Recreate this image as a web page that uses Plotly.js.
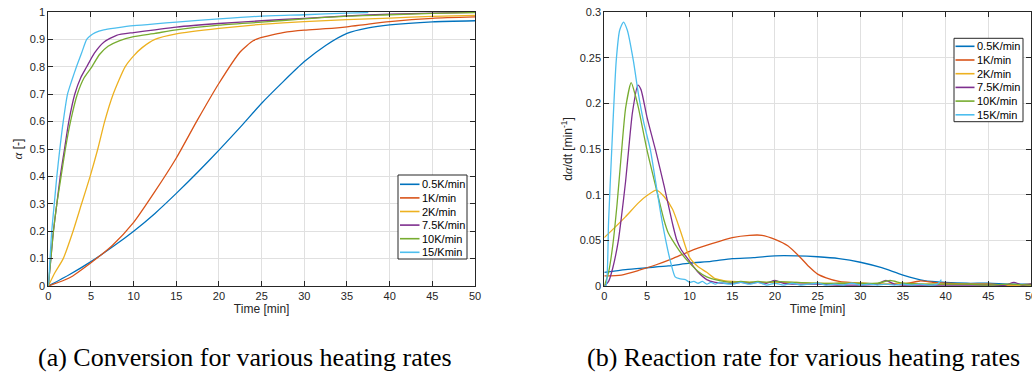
<!DOCTYPE html>
<html><head><meta charset="utf-8">
<script src="https://cdn.plot.ly/plotly-3.0.1.min.js"></script>
<style>html,body{margin:0;padding:0;background:#fff;}#chart{width:1032px;height:378px;}</style>
</head><body><div id="chart"></div>
<script>
// ---------- data ----------
const colors = ['#0072BD', '#D95319', '#EDB120', '#7E2F8E', '#77AC30', '#4DBEEE'];
const legendA = ['0.5K/min', '1K/min', '2K/min', '7.5K/min', '10K/min', '15/Kmin'];
const legendB = ['0.5K/min', '1K/min', '2K/min', '7.5K/min', '10K/min', '15K/min'];
const xTicks = [0, 5, 10, 15, 20, 25, 30, 35, 40, 45, 50];
const yTicksA = [0, 0.1, 0.2, 0.3, 0.4, 0.5, 0.6, 0.7, 0.8, 0.9, 1];
const yTicksB = [0, 0.05, 0.1, 0.15, 0.2, 0.25, 0.3];

// (a) conversion
const convT05 = [0, 2.5, 5, 7.5, 10, 12.5, 15, 17.5, 20, 22.5, 25, 27.5, 30, 32.5, 35, 37.5, 40, 45, 50];
const convA05 = [0, 0.042, 0.089, 0.142, 0.2, 0.265, 0.338, 0.415, 0.496, 0.58, 0.667, 0.745, 0.819, 0.878, 0.922, 0.942, 0.953, 0.964, 0.968];
const convT1 = [0, 2.5, 5, 7.5, 10, 12.5, 15, 17.5, 20, 22.5, 24, 25, 26, 27.5, 30, 32.5, 35, 37.5, 40, 45, 50];
const convA1 = [0, 0.03, 0.085, 0.148, 0.232, 0.345, 0.467, 0.607, 0.74, 0.855, 0.895, 0.907, 0.915, 0.925, 0.934, 0.939, 0.946, 0.956, 0.965, 0.977, 0.982];
const convT2 = [0, 0.8, 1.75, 2.9, 3.9, 4.9, 5.8, 6.6, 7.6, 9, 10, 11, 12.5, 15, 20, 25, 30, 35, 40, 45, 50];
const convA2 = [0, 0.05, 0.1, 0.2, 0.3, 0.4, 0.5, 0.6, 0.7, 0.8, 0.84, 0.87, 0.9, 0.92, 0.94, 0.955, 0.965, 0.972, 0.978, 0.984, 0.988];
const convT75 = [0, 0.3, 0.6, 1, 1.4, 1.9, 2.4, 3.1, 3.8, 4.5, 5.4, 6.5, 8, 10, 12.5, 15, 20, 25, 30, 35, 40, 45, 50];
const convA75 = [0, 0.1, 0.2, 0.3, 0.4, 0.5, 0.6, 0.7, 0.76, 0.8, 0.85, 0.89, 0.915, 0.925, 0.935, 0.945, 0.958, 0.968, 0.977, 0.986, 0.992, 0.996, 0.999];
const convT10 = [0, 0.3, 0.6, 1, 1.5, 2, 2.6, 3.4, 4.2, 5, 6, 7, 8.3, 10, 12.5, 15, 20, 25, 30, 35, 40, 45, 50];
const convA10 = [0, 0.1, 0.2, 0.3, 0.4, 0.5, 0.6, 0.7, 0.76, 0.795, 0.845, 0.875, 0.895, 0.91, 0.922, 0.935, 0.952, 0.963, 0.975, 0.985, 0.99, 0.995, 0.998];
const convT15 = [0, 0.2, 0.4, 0.7, 1, 1.35, 1.75, 2.25, 2.75, 3.3, 3.9, 4.5, 5, 5.5, 6.5, 8, 10, 12.5, 15, 20, 25, 30, 35, 37.5];
const convA15 = [0, 0.1, 0.2, 0.3, 0.4, 0.5, 0.6, 0.7, 0.75, 0.8, 0.85, 0.9, 0.915, 0.925, 0.935, 0.942, 0.95, 0.957, 0.963, 0.975, 0.985, 0.99, 0.996, 0.998];

// (b) reaction rate
const rateT05 = [0, 2.5, 5, 7.5, 10, 12.5, 15, 17.5, 20, 22.5, 25, 27.5, 30, 32.5, 35, 37.5, 40, 42.5, 45, 47.5, 50];
const rateR05 = [0.015, 0.018, 0.02, 0.022, 0.025, 0.027, 0.03, 0.031, 0.033, 0.033, 0.032, 0.03, 0.026, 0.02, 0.012, 0.006, 0.004, 0.003, 0.003, 0.002, 0.002];
const rateT1 = [0, 2, 4, 6, 8, 10, 12.5, 15, 17, 18.5, 20, 21.5, 23, 24, 25, 26, 27.5, 30, 32.5, 35, 37, 38.5, 40, 42.5, 45, 47.5, 50];
const rateR1 = [0.011, 0.012, 0.017, 0.023, 0.03, 0.038, 0.046, 0.053, 0.0555, 0.0555, 0.051, 0.044, 0.031, 0.021, 0.013, 0.009, 0.005, 0.003, 0.002, 0.002, 0.0055, 0.004, 0.003, 0.002, 0.002, 0.001, 0.002];
const rateT2 = [0, 1, 2.5, 4, 5, 6.1, 7, 8, 9, 10, 11, 12, 13, 14, 15, 17.5, 20, 22.5, 25, 27.5, 30, 32.5, 35, 37.5, 40, 42.5, 45, 47.5, 50];
const rateR2 = [0.053, 0.062, 0.076, 0.091, 0.099, 0.105, 0.098, 0.084, 0.058, 0.031, 0.021, 0.015, 0.008, 0.006, 0.005, 0.004, 0.004, 0.004, 0.003, 0.003, 0.003, 0.002, 0.003, 0.002, 0.002, 0.002, 0.002, 0.001, 0.001];
const rateT75 = [0, 0.5, 1, 1.65, 2, 2.5, 2.85, 3.3, 3.94, 4.3, 5, 6, 7, 8, 8.5, 9, 10, 11, 12, 13, 14, 15, 16, 17, 18, 19, 20, 21, 22.5, 25, 27.5, 30, 32, 33, 34, 35, 37.5, 40, 42.5, 45, 47, 48, 49, 50];
const rateR75 = [0, 0.005, 0.02, 0.05, 0.075, 0.115, 0.149, 0.19, 0.22, 0.215, 0.185, 0.149, 0.11, 0.068, 0.05, 0.04, 0.027, 0.015, 0.007, 0.004, 0.003, 0.003, 0.004, 0.003, 0.004, 0.003, 0.006, 0.003, 0.002, 0.002, 0.001, 0.001, 0.002, 0.006, 0.002, 0.001, 0.001, 0.001, 0.001, 0.001, 0.001, 0.004, 0.001, 0.002];
const rateT10 = [0, 0.5, 1, 1.5, 2, 2.5, 3.15, 3.6, 4, 5, 6, 7, 7.5, 8, 9, 10, 11, 12, 13, 14, 15, 16, 17, 18, 19, 20, 22.5, 25, 27.5, 30, 32, 33.5, 35, 37.5, 40, 42.5, 45, 47.5, 50];
const rateR10 = [0, 0.015, 0.045, 0.09, 0.145, 0.195, 0.2226, 0.21, 0.195, 0.149, 0.11, 0.072, 0.058, 0.05, 0.036, 0.025, 0.016, 0.01, 0.007, 0.005, 0.004, 0.005, 0.004, 0.005, 0.004, 0.005, 0.004, 0.003, 0.003, 0.003, 0.003, 0.006, 0.003, 0.002, 0.002, 0.002, 0.001, 0.002, 0.001];
const rateT15 = [0, 0.2, 0.5, 0.87, 1.4, 1.8, 2.25, 2.7, 3.4, 4, 4.6, 5.4, 6, 6.6, 7.2, 7.8, 8.3, 8.8, 9.5, 10, 10.5, 11, 11.5, 12, 12.5, 13, 13.5, 14, 15, 16, 17, 18, 19, 20, 21, 22, 23, 24, 25, 26, 27, 28, 29, 30, 31, 32, 33, 34, 35, 36, 37, 38, 39, 39.5];
const rateR15 = [0, 0, 0.07, 0.149, 0.247, 0.28, 0.289, 0.28, 0.247, 0.21, 0.18, 0.149, 0.115, 0.08, 0.05, 0.025, 0.01, 0.008, 0.007, 0.004, 0.005, 0.003, 0.005, 0.002, 0.004, 0.002, 0.004, 0.003, 0.002, 0.004, 0.002, 0.004, 0.001, 0.003, 0.001, 0.003, 0.001, 0.002, 0.003, 0.001, 0.002, 0.001, 0.003, 0.001, 0.002, 0.001, 0.002, 0.001, 0.002, 0.001, 0.002, 0.001, 0.002, 0.007];

const convSeries = [[convT05, convA05], [convT1, convA1], [convT2, convA2], [convT75, convA75], [convT10, convA10], [convT15, convA15]];
const rateSeries = [[rateT05, rateR05], [rateT1, rateR1], [rateT2, rateR2], [rateT75, rateR75], [rateT10, rateR10], [rateT15, rateR15]];

// ---------- layout helpers ----------
const W = 1032, H = 378;
const px = x => x / W, py = y => 1 - y / H;
const axisCol = '#262626';
const tickFont = {family: 'Liberation Sans, Arial, sans-serif', size: 11, color: axisCol};
const titleFont = {family: 'Liberation Sans, Arial, sans-serif', size: 12, color: axisCol};

const traces = [];
convSeries.forEach((s, i) => traces.push({
  x: s[0], y: s[1], xaxis: 'x', yaxis: 'y', type: 'scatter', mode: 'lines',
  line: {color: colors[i], width: 1.3, shape: 'spline', smoothing: 0.6}, showlegend: false, hoverinfo: 'skip'
}));
rateSeries.forEach((s, i) => traces.push({
  x: s[0], y: s[1], xaxis: 'x2', yaxis: 'y2', type: 'scatter', mode: 'lines',
  line: {color: colors[i], width: 1.3, shape: 'spline', smoothing: 0.6}, showlegend: false, hoverinfo: 'skip'
}));

function xax(domain, anchor) {
  return {domain: domain, anchor: anchor, range: [0, 50], tickvals: xTicks, ticks: 'inside', ticklen: 5,
    tickcolor: axisCol, showline: true, linecolor: axisCol, linewidth: 1, mirror: 'ticks',
    showgrid: true, gridcolor: '#e0e0e0', gridwidth: 1, zeroline: false, tickfont: tickFont,
    ticklabeloverflow: 'allow',
    title: {text: 'Time [min]', font: titleFont, standoff: 2}, fixedrange: true};
}
function yax(domain, anchor, range, ticks, title) {
  return {domain: domain, anchor: anchor, range: range, tickvals: ticks, ticks: 'inside', ticklen: 5,
    tickcolor: axisCol, showline: true, linecolor: axisCol, linewidth: 1, mirror: 'ticks',
    showgrid: true, gridcolor: '#e0e0e0', gridwidth: 1, zeroline: false, tickfont: tickFont,
    title: {text: title, font: titleFont, standoff: 4}, fixedrange: true};
}

const yDom = [py(286), py(12)];
const layout = {
  width: W, height: H, margin: {l: 0, r: 0, t: 0, b: 0}, paper_bgcolor: '#fff', plot_bgcolor: '#fff',
  showlegend: false,
  xaxis: xax([px(48.3), px(475)], 'y'),
  yaxis: yax(yDom, 'x', [0, 1], yTicksA, '<span style="font-family:Liberation Serif;font-size:13px"><i>α</i></span> [-]'),
  xaxis2: xax([px(604.3), px(1031)], 'y2'),
  yaxis2: yax(yDom, 'x2', [0, 0.3], yTicksB, 'd<span style="font-family:Liberation Serif;font-size:13px"><i>α</i></span>/dt [min<sup>-1</sup>]'),
  shapes: [], annotations: []
};

function addLegend(names, box, lineX0, lineX1, textX, yTop, step) {
  layout.shapes.push({type: 'rect', xref: 'paper', yref: 'paper', layer: 'above',
    x0: px(box[0]), x1: px(box[1]), y0: py(box[2]), y1: py(box[3]),
    fillcolor: '#ffffff', line: {color: axisCol, width: 1}});
  names.forEach((n, i) => {
    const y = yTop + i * step;
    layout.shapes.push({type: 'line', xref: 'paper', yref: 'paper', layer: 'above',
      x0: px(lineX0), x1: px(lineX1), y0: py(y), y1: py(y), line: {color: colors[i], width: 1.6}});
    layout.annotations.push({xref: 'paper', yref: 'paper', x: px(textX), y: py(y), xanchor: 'left', yanchor: 'middle',
      text: n, showarrow: false, font: {family: 'Liberation Sans, Arial, sans-serif', size: 11, color: '#000'}});
  });
}
addLegend(legendA, [398, 467, 175, 259], 400, 419.5, 419.5, 184.3, 13.6);
addLegend(legendB, [954, 1023, 38.3, 121.7], 955.5, 974.5, 974.5, 46.3, 13.7);

const captionFont = {family: 'Liberation Serif, serif', size: 26, color: '#000'};
layout.annotations.push({xref: 'paper', yref: 'paper', x: px(36), y: py(357), xanchor: 'left', yanchor: 'middle',
  text: '(a) Conversion for various heating rates', showarrow: false, font: captionFont});
layout.annotations.push({xref: 'paper', yref: 'paper', x: px(585), y: py(357), xanchor: 'left', yanchor: 'middle',
  text: '(b) Reaction rate for various heating rates', showarrow: false, font: captionFont});

Plotly.newPlot('chart', traces, layout, {staticPlot: true, displayModeBar: false});
</script></body></html>
